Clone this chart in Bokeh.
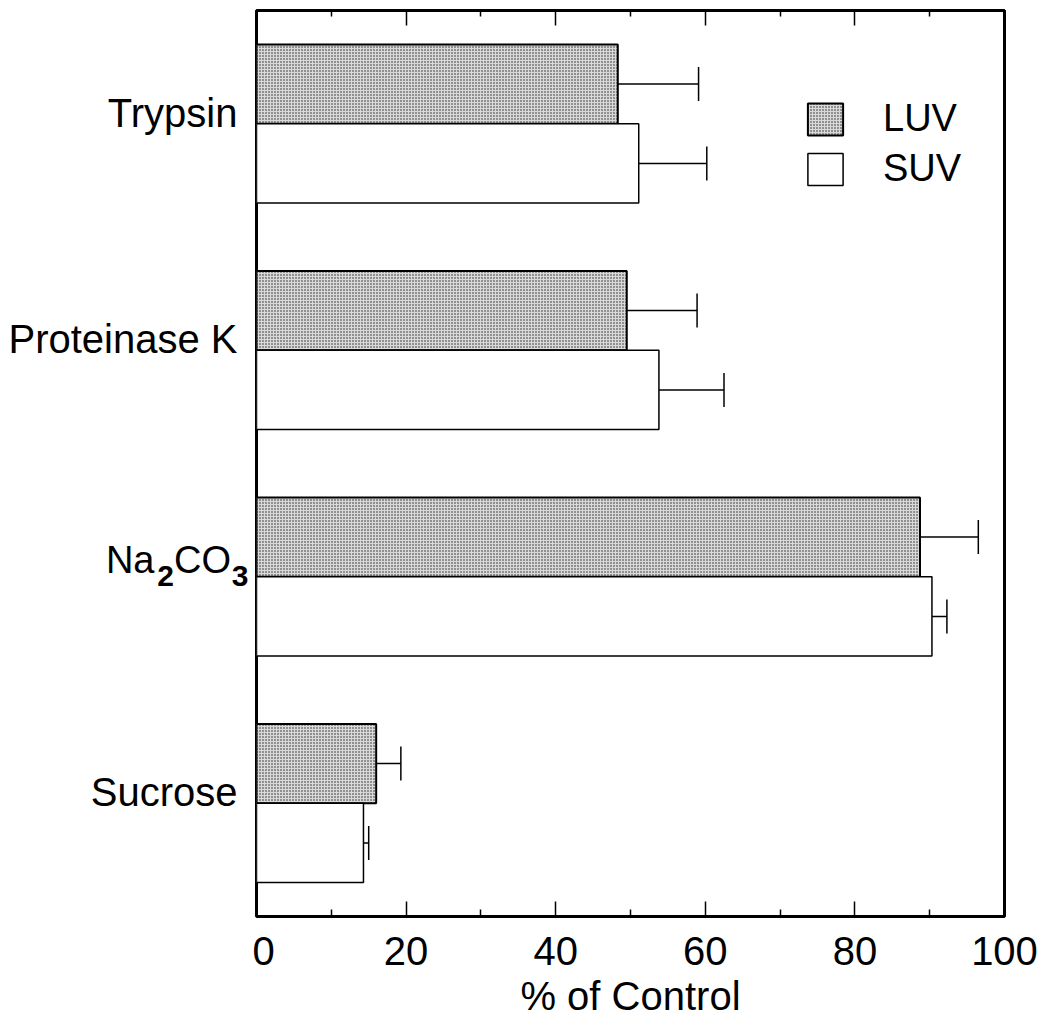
from bokeh.plotting import figure
from bokeh.layouts import row
from bokeh.models import (Range1d, LinearAxis, FixedTicker, Whisker, TeeHead,
                          ColumnDataSource, Legend, LegendItem, CustomJSTickFormatter)
from bokeh.core.properties import value
from bokeh.embed import file_html
from bokeh.resources import INLINE

# ---- data ----
categories = ["Trypsin", "Proteinase K", "Na2CO3", "Sucrose"]
luv_values = [48.3, 49.5, 88.7, 16.0]
luv_errors = [10.8, 9.4, 7.8, 3.3]
suv_values = [51.1, 53.8, 90.3, 14.3]
suv_errors = [9.1, 8.7, 2.0, 0.7]
x_ticks = [0, 20, 40, 60, 80, 100]
x_minor_ticks = [10, 30, 50, 70, 90]

FONT = "Liberation Sans"
n = len(categories)
pos = [n - 1 - i for i in range(n)]
bar_h = 0.35
LEFT_W = 252

luv_src = ColumnDataSource(dict(
    y=[p_ + bar_h / 2 for p_ in pos], right=luv_values,
    upper=[v + e for v, e in zip(luv_values, luv_errors)]))
suv_src = ColumnDataSource(dict(
    y=[p_ - bar_h / 2 for p_ in pos], right=suv_values,
    upper=[v + e for v, e in zip(suv_values, suv_errors)]))

yr = Range1d(-0.5, n - 0.5)

p = figure(width=1043 - LEFT_W, height=1024, x_range=Range1d(0, 100),
           y_range=yr, output_backend="svg",
           toolbar_location=None, y_axis_location=None,
           min_border_left=4, min_border_right=39,
           min_border_top=10, min_border_bottom=108)
p.grid.visible = False
p.outline_line_color = "black"
p.outline_line_width = 3
p.background_fill_color = "white"
p.border_fill_color = "white"

luv_r = p.hbar(y="y", left=0, right="right", height=bar_h, source=luv_src,
               fill_color="#d9d9d9", hatch_pattern="dot", hatch_color="#222222",
               hatch_scale=3, hatch_weight=1, line_color="black", line_width=2)
suv_r = p.hbar(y="y", left=0, right="right", height=bar_h, source=suv_src,
               fill_color="white", line_color="black", line_width=1.5)

for src in (luv_src, suv_src):
    w = Whisker(source=src, base="y", lower="right", upper="upper",
                dimension="width", line_color="black", line_width=1.5,
                lower_head=None,
                upper_head=TeeHead(size=34, line_color="black", line_width=1.5))
    p.add_layout(w)

# bottom axis
ax = p.xaxis[0]
ax.ticker = FixedTicker(ticks=x_ticks, minor_ticks=x_minor_ticks)
ax.axis_line_color = None
ax.major_tick_in = 15
ax.major_tick_out = 0
ax.minor_tick_in = 7
ax.minor_tick_out = 0
ax.major_tick_line_width = 1.5
ax.minor_tick_line_width = 1.5
ax.major_label_text_font = FONT
ax.major_label_text_font_size = "40px"
ax.major_label_text_color = "black"
ax.major_label_standoff = 20
ax.axis_label = "% of Control"
ax.axis_label_text_font = FONT
ax.axis_label_text_font_size = "40px"
ax.axis_label_text_font_style = "normal"
ax.axis_label_text_color = "black"
ax.axis_label_standoff = 6

# top axis (ticks only)
top = LinearAxis(ticker=FixedTicker(ticks=x_ticks, minor_ticks=x_minor_ticks),
                 formatter=CustomJSTickFormatter(code="return ''"),
                 axis_line_color=None, major_tick_in=15, major_tick_out=0,
                 minor_tick_in=6, minor_tick_out=0, major_tick_line_width=1.5,
                 minor_tick_line_width=1.5, major_label_standoff=0,
                 major_label_text_font_size="1px")
p.add_layout(top, "above")

legend = Legend(items=[LegendItem(label="LUV", renderers=[luv_r]),
                       LegendItem(label="SUV", renderers=[suv_r])],
                location=(547, 726), glyph_width=44, glyph_height=40,
                label_standoff=36, spacing=7, padding=0, margin=0,
                border_line_color=None, background_fill_alpha=0,
                label_text_font=FONT, label_text_font_size="38px",
                label_text_color="black")
p.add_layout(legend)

# left panel with category labels
lab = figure(width=LEFT_W, height=1024, x_range=Range1d(0, LEFT_W), y_range=yr,
             output_backend="svg", toolbar_location=None,
             x_axis_location=None, y_axis_location=None,
             min_border_left=0, min_border_right=0,
             min_border_top=10, min_border_bottom=108)
lab.grid.visible = False
lab.outline_line_color = None
lab.background_fill_color = "white"
lab.border_fill_color = "white"

plain = [(c, yp) for c, yp in zip(categories, pos) if c != "Na2CO3"]
lab.text(x=[LEFT_W - 15] * len(plain), y=[yp for _, yp in plain],
         text=[c for c, _ in plain], y_offset=-11,
         text_align="right", text_baseline="alphabetic",
         text_font=value(FONT), text_font_size="40px", text_color="black")

for c, yp in zip(categories, pos):
    if c == "Na2CO3":
        pieces = [("3", True), ("CO", False), ("2", True), ("Na", False)]
        widths = {"3": 17.5, "CO": 57.0, "2": 19.5, "Na": 48.6}
        xr = LEFT_W - 4
        for txt, sub in pieces:
            lab.text(x=[xr], y=[yp], text=[txt], y_offset=-1 if sub else -17,
                     text_align="right", text_baseline="alphabetic",
                     text_font=value(FONT),
                     text_font_size="30px" if sub else "38px",
                     text_font_style="bold" if sub else "normal",
                     text_color="black")
            xr -= widths[txt]

layout = row(lab, p)
open("out.html", "w").write(file_html(layout, INLINE))
